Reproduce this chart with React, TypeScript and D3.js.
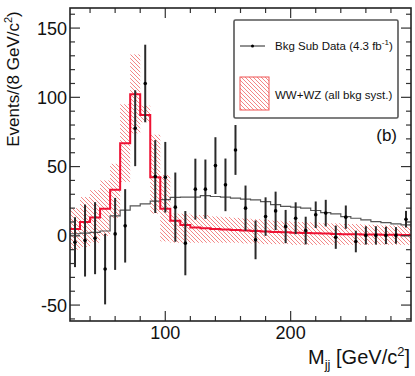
import React, { useEffect, useRef } from 'react';
import * as d3 from 'd3';

// Mjj bins: 8 GeV wide starting at 24
const binStart = 24;
const binWidth = 8;

// background-subtracted data (events per bin) and stat errors
const dataVals = [-4.6, -3.4, -1.7, -24, 1.4, 7.2, 77.7, 110, 42.8, 42.3, 20.7, -5.3, 33.7, 33.7, 50.7, 36.8, 62, 20, -2.9, 13.9, 18, 6.7, 12.7, 3.8, 15.2, 16.4, -1, 13.5, -4.1, 0.3, 0.3, 0.3, 0.3, 12];
const dataErrs = [18, 26, 26, 25.5, 26, 26.5, 27.4, 28, 26.3, 25.5, 25, 23.2, 22, 21.4, 20.5, 19, 18, 16.3, 14, 13.9, 13.9, 12, 11.5, 10, 9.6, 9.6, 8.4, 8.4, 7.8, 6.6, 6.6, 6.3, 6, 6];

// WW+WZ expectation and its syst band
const wwwz = [5, 9.9, 13.2, 19.5, 33.2, 66.9, 102.2, 87.3, 42.3, 19.5, 10.8, 7.9, 6, 5.5, 5, 4.6, 4.2, 3.8, 3.4, 3.1, 2.8, 2.5, 2.2, 2, 1.8, 1.6, 1.4, 1.2, 1.1, 1, 0.9, 0.8, 0.7, 0.6];
const bandLo = [-10, -8, -5, 0, 13, 39, 74, 82, 16, -4, -5, -5, -5, -5, -5, -5, -5, -5.5, -5.5, -6, -6, -6, -6.5, -6.5, -6.5, -6.5, -6.5, -6.5, -6.5, -6.5, -6.5, -6.5, -6.5, -6.5];
const bandHi = [20, 28, 33, 40, 52, 95, 131, 94, 73, 44, 16, 16, 15, 15, 14, 13.5, 13, 12.5, 12, 11.5, 11, 10.5, 10, 10, 9.5, 9, 9, 8.5, 8.5, 8, 8, 7.5, 7.5, 7.5];

// thin black histogram
const bkgShape = [1.5, 2, 2.5, 3.5, 14.4, 18.5, 21.6, 23.1, 25, 26.2, 27.8, 28, 28, 29, 28.4, 27.9, 27.2, 26.5, 26, 24.7, 22.5, 21.2, 20.7, 20, 18.3, 16.8, 15.9, 13.9, 12.7, 11.5, 10.3, 9.6, 8.7, 7.9];

const xMajor = [100, 200];
const yMajor = [-50, 0, 50, 100, 150];

const FONT = "'Liberation Sans', Arial, Helvetica, sans-serif";

const App = () => {
  const svgRef = useRef(null);

  useEffect(() => {
    const width = 415, height = 376;
    const frame = { left: 70, right: 411, top: 8, bottom: 321 };

    const svg = d3.select(svgRef.current);
    svg.selectAll('*').remove();
    svg.attr('width', width).attr('height', height);

    const x = d3.scaleLinear().domain([24, 296]).range([frame.left, frame.right]);
    const y = d3.scaleLinear().domain([-61.5, 164.5]).range([frame.bottom, frame.top]);

    const defs = svg.append('defs');
    const pat = defs.append('pattern')
      .attr('id', 'hatch')
      .attr('patternUnits', 'userSpaceOnUse')
      .attr('width', 4).attr('height', 4);
    pat.append('path')
      .attr('d', 'M-1,-1 l6,6 M-1,3 l2,2 M3,-1 l2,2')
      .attr('stroke', '#f07878')
      .attr('stroke-width', 0.9);
    defs.append('clipPath').attr('id', 'plotclip')
      .append('rect')
      .attr('x', frame.left).attr('y', frame.top)
      .attr('width', frame.right - frame.left).attr('height', frame.bottom - frame.top);

    const bins = dataVals.map((_, i) => ({
      lo: binStart + i * binWidth,
      hi: binStart + (i + 1) * binWidth,
      c: binStart + (i + 0.5) * binWidth,
      i,
    }));

    const plot = svg.append('g').attr('clip-path', 'url(#plotclip)');

    // syst band
    plot.append('g')
      .selectAll('rect')
      .data(bins)
      .join('rect')
      .attr('x', d => x(d.lo))
      .attr('width', d => x(d.hi) - x(d.lo))
      .attr('y', d => y(bandHi[d.i]))
      .attr('height', d => y(bandLo[d.i]) - y(bandHi[d.i]))
      .attr('fill', 'url(#hatch)');

    const stepPts = (vals) => {
      const pts = [];
      vals.forEach((v, i) => {
        pts.push([x(binStart + i * binWidth), y(v)]);
        pts.push([x(binStart + (i + 1) * binWidth), y(v)]);
      });
      return pts;
    };
    const line = d3.line();

    plot.append('path')
      .attr('d', line(stepPts(bkgShape)))
      .attr('fill', 'none')
      .attr('stroke', '#555')
      .attr('stroke-width', 1.2);

    plot.append('path')
      .attr('d', line(stepPts(wwwz)))
      .attr('fill', 'none')
      .attr('stroke', '#ee1133')
      .attr('stroke-width', 2);

    // data points
    const pts = plot.append('g');
    pts.selectAll('line')
      .data(bins)
      .join('line')
      .attr('x1', d => x(d.c)).attr('x2', d => x(d.c))
      .attr('y1', d => y(dataVals[d.i] + dataErrs[d.i]))
      .attr('y2', d => y(dataVals[d.i] - dataErrs[d.i]))
      .attr('stroke', '#2a2a2a')
      .attr('stroke-width', 2);
    pts.selectAll('circle')
      .data(bins)
      .join('circle')
      .attr('cx', d => x(d.c))
      .attr('cy', d => y(dataVals[d.i]))
      .attr('r', 1.8)
      .attr('fill', '#000');

    // ticks on all four sides
    const ax = svg.append('g').attr('stroke', '#333').attr('stroke-width', 1.2);
    const xMinor = d3.range(40, 296, 20).filter(v => !xMajor.includes(v));
    const yMinor = d3.range(-60, 165, 10).filter(v => !yMajor.includes(v));
    const xt = [...xMajor.map(v => [v, 10]), ...xMinor.map(v => [v, 5])];
    const yt = [...yMajor.map(v => [v, 10]), ...yMinor.map(v => [v, 5])];
    xt.forEach(([v, len]) => {
      ax.append('line').attr('x1', x(v)).attr('x2', x(v)).attr('y1', frame.bottom).attr('y2', frame.bottom - len);
      ax.append('line').attr('x1', x(v)).attr('x2', x(v)).attr('y1', frame.top).attr('y2', frame.top + len);
    });
    yt.forEach(([v, len]) => {
      ax.append('line').attr('y1', y(v)).attr('y2', y(v)).attr('x1', frame.left).attr('x2', frame.left + len);
      ax.append('line').attr('y1', y(v)).attr('y2', y(v)).attr('x1', frame.right).attr('x2', frame.right - len);
    });

    svg.append('rect')
      .attr('x', frame.left).attr('y', frame.top)
      .attr('width', frame.right - frame.left).attr('height', frame.bottom - frame.top)
      .attr('fill', 'none')
      .attr('stroke', '#222')
      .attr('stroke-width', 1.6);

    // tick labels
    const lab = svg.append('g').attr('font-family', FONT).attr('fill', '#111');
    xMajor.forEach(v => {
      lab.append('text').attr('x', x(v)).attr('y', 339)
        .attr('text-anchor', 'middle').attr('font-size', 18).text(v);
    });
    yMajor.forEach(v => {
      lab.append('text').attr('x', 67).attr('y', y(v)).attr('dy', '0.36em')
        .attr('text-anchor', 'end').attr('font-size', 18).text(v);
    });

    // axis titles
    const xt2 = lab.append('text').attr('x', 410).attr('y', 364)
      .attr('text-anchor', 'end').attr('font-size', 20);
    xt2.append('tspan').text('M');
    xt2.append('tspan').attr('font-size', 13).attr('dy', 5).text('jj');
    xt2.append('tspan').attr('dy', -5).text(' [GeV/c');
    xt2.append('tspan').attr('font-size', 13).attr('dy', -8).text('2');
    xt2.append('tspan').attr('dy', 8).text(']');

    const yt2 = lab.append('text')
      .attr('transform', 'translate(19,79) rotate(-90)')
      .attr('text-anchor', 'middle').attr('font-size', 17);
    yt2.append('tspan').text('Events/(8 GeV/c');
    yt2.append('tspan').attr('font-size', 11).attr('dy', -7).text('2');
    yt2.append('tspan').attr('dy', 7).text(')');

    // legend
    const leg = svg.append('g').attr('font-family', FONT);
    leg.append('rect')
      .attr('x', 234).attr('y', 20).attr('width', 164).attr('height', 98)
      .attr('rx', 1.5)
      .attr('fill', '#fff').attr('stroke', '#555').attr('stroke-width', 1.6);
    leg.append('line').attr('x1', 240).attr('x2', 265).attr('y1', 46).attr('y2', 46)
      .attr('stroke', '#222').attr('stroke-width', 1);
    leg.append('circle').attr('cx', 252.5).attr('cy', 46).attr('r', 1.5).attr('fill', '#000');
    const t1 = leg.append('text').attr('x', 275).attr('y', 50).attr('font-size', 11.5).attr('fill', '#111');
    t1.append('tspan').text('Bkg Sub Data (4.3 fb');
    t1.append('tspan').attr('font-size', 8).attr('dy', -5).text('-1');
    t1.append('tspan').attr('dy', 5).text(')');
    leg.append('rect')
      .attr('x', 240).attr('y', 77).attr('width', 29).attr('height', 33)
      .attr('fill', 'url(#hatch)').attr('stroke', '#f05555').attr('stroke-width', 1);
    leg.append('text').attr('x', 275).attr('y', 99).attr('font-size', 11.5).attr('fill', '#111')
      .text('WW+WZ (all bkg syst.)');

    svg.append('text').attr('x', 397).attr('y', 141)
      .attr('text-anchor', 'end').attr('font-family', FONT).attr('font-size', 17).attr('fill', '#111')
      .text('(b)');
  }, []);

  return <svg ref={svgRef} style={{ position: 'absolute', left: 0, top: 0 }}></svg>;
};

export default App;
